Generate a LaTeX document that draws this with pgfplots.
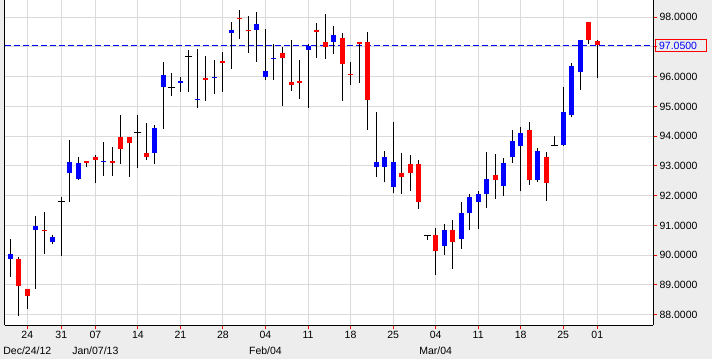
\documentclass[border=0pt]{standalone}
\usepackage{fontspec}
\setmainfont{Liberation Sans}
\usepackage{pgfplots}
\usepackage{pgfplotstable}
\pgfplotsset{compat=1.18}
\definecolor{bg}{RGB}{237,237,237}
\definecolor{gridc}{RGB}{218,218,218}
\definecolor{cblue}{RGB}{0,0,255}
\definecolor{cred}{RGB}{255,0,0}

% i open high low close
\pgfplotstableread{
i o h l c
0 89.88 90.55 89.28 90.04
3 90.86 91.33 88.87 90.98
5 90.45 90.68 90.39 90.61
7 92.76 93.87 91.80 93.13
8 92.56 93.30 92.53 93.10
11 93.13 93.81 92.67 93.17
17 93.44 94.38 93.07 94.28
18 95.66 96.50 94.24 96.06
20 95.79 96.00 95.49 95.86
22 95.22 96.93 94.96 95.26
24 95.94 96.56 95.43 95.99
26 97.47 97.84 96.27 97.57
29 97.58 98.18 96.51 97.77
30 96.00 97.60 95.89 96.19
31 96.60 97.10 95.89 96.63
35 96.90 97.10 94.95 97.03
38 97.17 97.71 96.77 97.41
43 92.97 94.82 92.63 93.13
44 92.97 93.50 92.45 93.30
45 92.30 94.48 92.10 93.13
51 90.32 91.03 90.01 90.85
53 90.54 91.77 90.22 91.40
54 91.40 92.06 90.83 91.97
55 91.80 92.17 90.89 92.06
56 92.07 93.47 91.59 92.56
58 92.34 93.27 92.00 93.10
59 93.31 94.22 93.11 93.84
60 93.68 94.31 92.14 94.11
62 92.53 93.60 92.47 93.50
65 93.70 95.67 93.67 94.82
66 94.71 96.47 94.66 96.36
67 96.17 97.25 95.56 97.25
}\upData

\pgfplotstableread{
i o h l c
1 89.87 89.94 87.96 88.96
2 88.86 88.86 88.19 88.63
4 90.86 91.46 90.05 90.82
9 93.17 93.17 92.98 93.10
10 93.30 93.37 92.44 93.20
12 93.15 93.64 92.67 93.11
13 93.97 94.71 93.07 93.57
14 93.97 93.97 92.64 93.77
16 93.44 94.45 93.20 93.30
23 95.94 96.70 95.20 95.90
25 96.53 96.83 95.48 96.47
27 97.99 98.25 97.28 97.95
28 97.57 98.04 96.81 97.53
32 96.80 97.00 95.02 96.64
33 95.82 97.24 95.53 95.73
34 95.84 96.56 95.26 95.80
36 97.57 97.81 96.63 97.52
37 97.17 98.11 96.60 97.01
39 97.30 97.47 95.20 96.44
40 96.09 96.50 95.73 96.05
41 97.17 97.17 95.80 97.11
42 97.17 97.51 94.22 95.23
46 92.76 93.44 92.06 92.64
47 93.07 93.37 92.17 92.76
48 93.07 93.20 91.56 91.80
50 90.68 90.92 89.34 90.15
52 90.85 91.18 89.55 90.45
57 92.71 93.40 91.89 92.53
61 94.21 94.48 92.37 92.53
63 93.30 93.47 91.83 92.42
68 97.85 97.85 97.11 97.25
69 97.20 97.25 95.94 97.05
}\downData

\pgfplotstableread{
i o h l c
6 91.81 91.97 89.98 91.81
15 94.13 94.71 92.94 94.13
19 95.65 96.13 95.35 95.65
21 96.68 96.90 95.50 96.68
49 90.66 90.66 90.51 90.66
64 93.70 93.99 93.70 93.70
}\dojiData

\pgfplotsset{
  wick/.style={only marks, mark options={draw=none, fill=none}, mark size=0pt, forget plot,
    error bars/.cd, y dir=plus, y explicit, error mark=none,
    error bar style={draw=black, line width=1pt}},
  body/.style={only marks, mark options={draw=none, fill=none}, mark size=0pt, forget plot,
    error bars/.cd, y dir=plus, y explicit, error mark=none,
    error bar style={draw=#1, line width=5pt}},
}

\begin{document}
\begin{tikzpicture}
\fill[bg] (-4.7pt,-33.7pt) rectangle (707.3pt,325.3pt);
\begin{axis}[
  scale only axis,
  width=648.6pt, height=325.3pt,
  xmin=-0.657, xmax=75.59,
  ymin=87.64, ymax=98.58,
  axis background/.style={fill=white},
  axis x line*=bottom,
  axis y line*=box,
  axis line style={black, line width=1pt},
  xtick pos=left, ytick pos=right,
  yticklabel pos=right,
  tick align=outside,
  major tick length=4pt,
  tick style={cred, line width=1pt},
  grid=major,
  major grid style={gridc, line width=1pt},
  xtick={2,6,10,15,20,25,30,35,40,45,50,55,60,65,69},
  xticklabels={{24\\Dec/24/12},31,{07\\Jan/07/13},14,21,28,{04\\Feb/04},11,18,25,{04\\Mar/04},11,18,25,01},
  ytick={88,89,90,91,92,93,94,95,96,97,98},
  yticklabels={88.0000,89.0000,90.0000,91.0000,92.0000,93.0000,94.0000,95.0000,96.0000,{},98.0000},
  tick label style={font=\fontsize{10.5}{15.5}\selectfont, text=black},
  xticklabel style={align=center, inner sep=1pt, yshift=-1pt},
  yticklabel style={inner sep=1pt, xshift=1pt},
  clip=true,
]
% dashed last-price line
\addplot[cblue, line width=1pt, dash pattern=on 6pt off 3pt, forget plot] coordinates {(-0.657,97.05) (75.59,97.05)};
% wicks
\addplot[wick] table[x=i, y=l, y error expr=\thisrow{h}-\thisrow{l}] {\upData};
\addplot[wick] table[x=i, y=l, y error expr=\thisrow{h}-\thisrow{l}] {\downData};
\addplot[wick] table[x=i, y=l, y error expr=\thisrow{h}-\thisrow{l}] {\dojiData};
% up bodies
\addplot[body=cblue] table[x=i, y=o, y error expr=\thisrow{c}-\thisrow{o}] {\upData};
% down bodies
\addplot[body=cred] table[x=i, y=c, y error expr=\thisrow{o}-\thisrow{c}] {\downData};
% doji ticks
\addplot[only marks, mark=-, mark size=3.5pt, mark options={black, line width=1pt}, forget plot]
  table[x=i, y=o] {\dojiData};
\coordinate (lp) at (axis cs:75.59,97.05);
\end{axis}
\draw[cred, line width=1pt] ([xshift=2.5pt, yshift=-6.2pt]lp) rectangle ++(51pt,12.4pt);
\node[anchor=west, text=cblue, inner sep=0pt, font=\fontsize{10.5}{12}\selectfont] at ([xshift=5.6pt]lp) {97.0500};
\pgfresetboundingbox
\path[use as bounding box] (-4.7pt,-33.7pt) rectangle (707.3pt,325.3pt);
\end{tikzpicture}
\end{document}
